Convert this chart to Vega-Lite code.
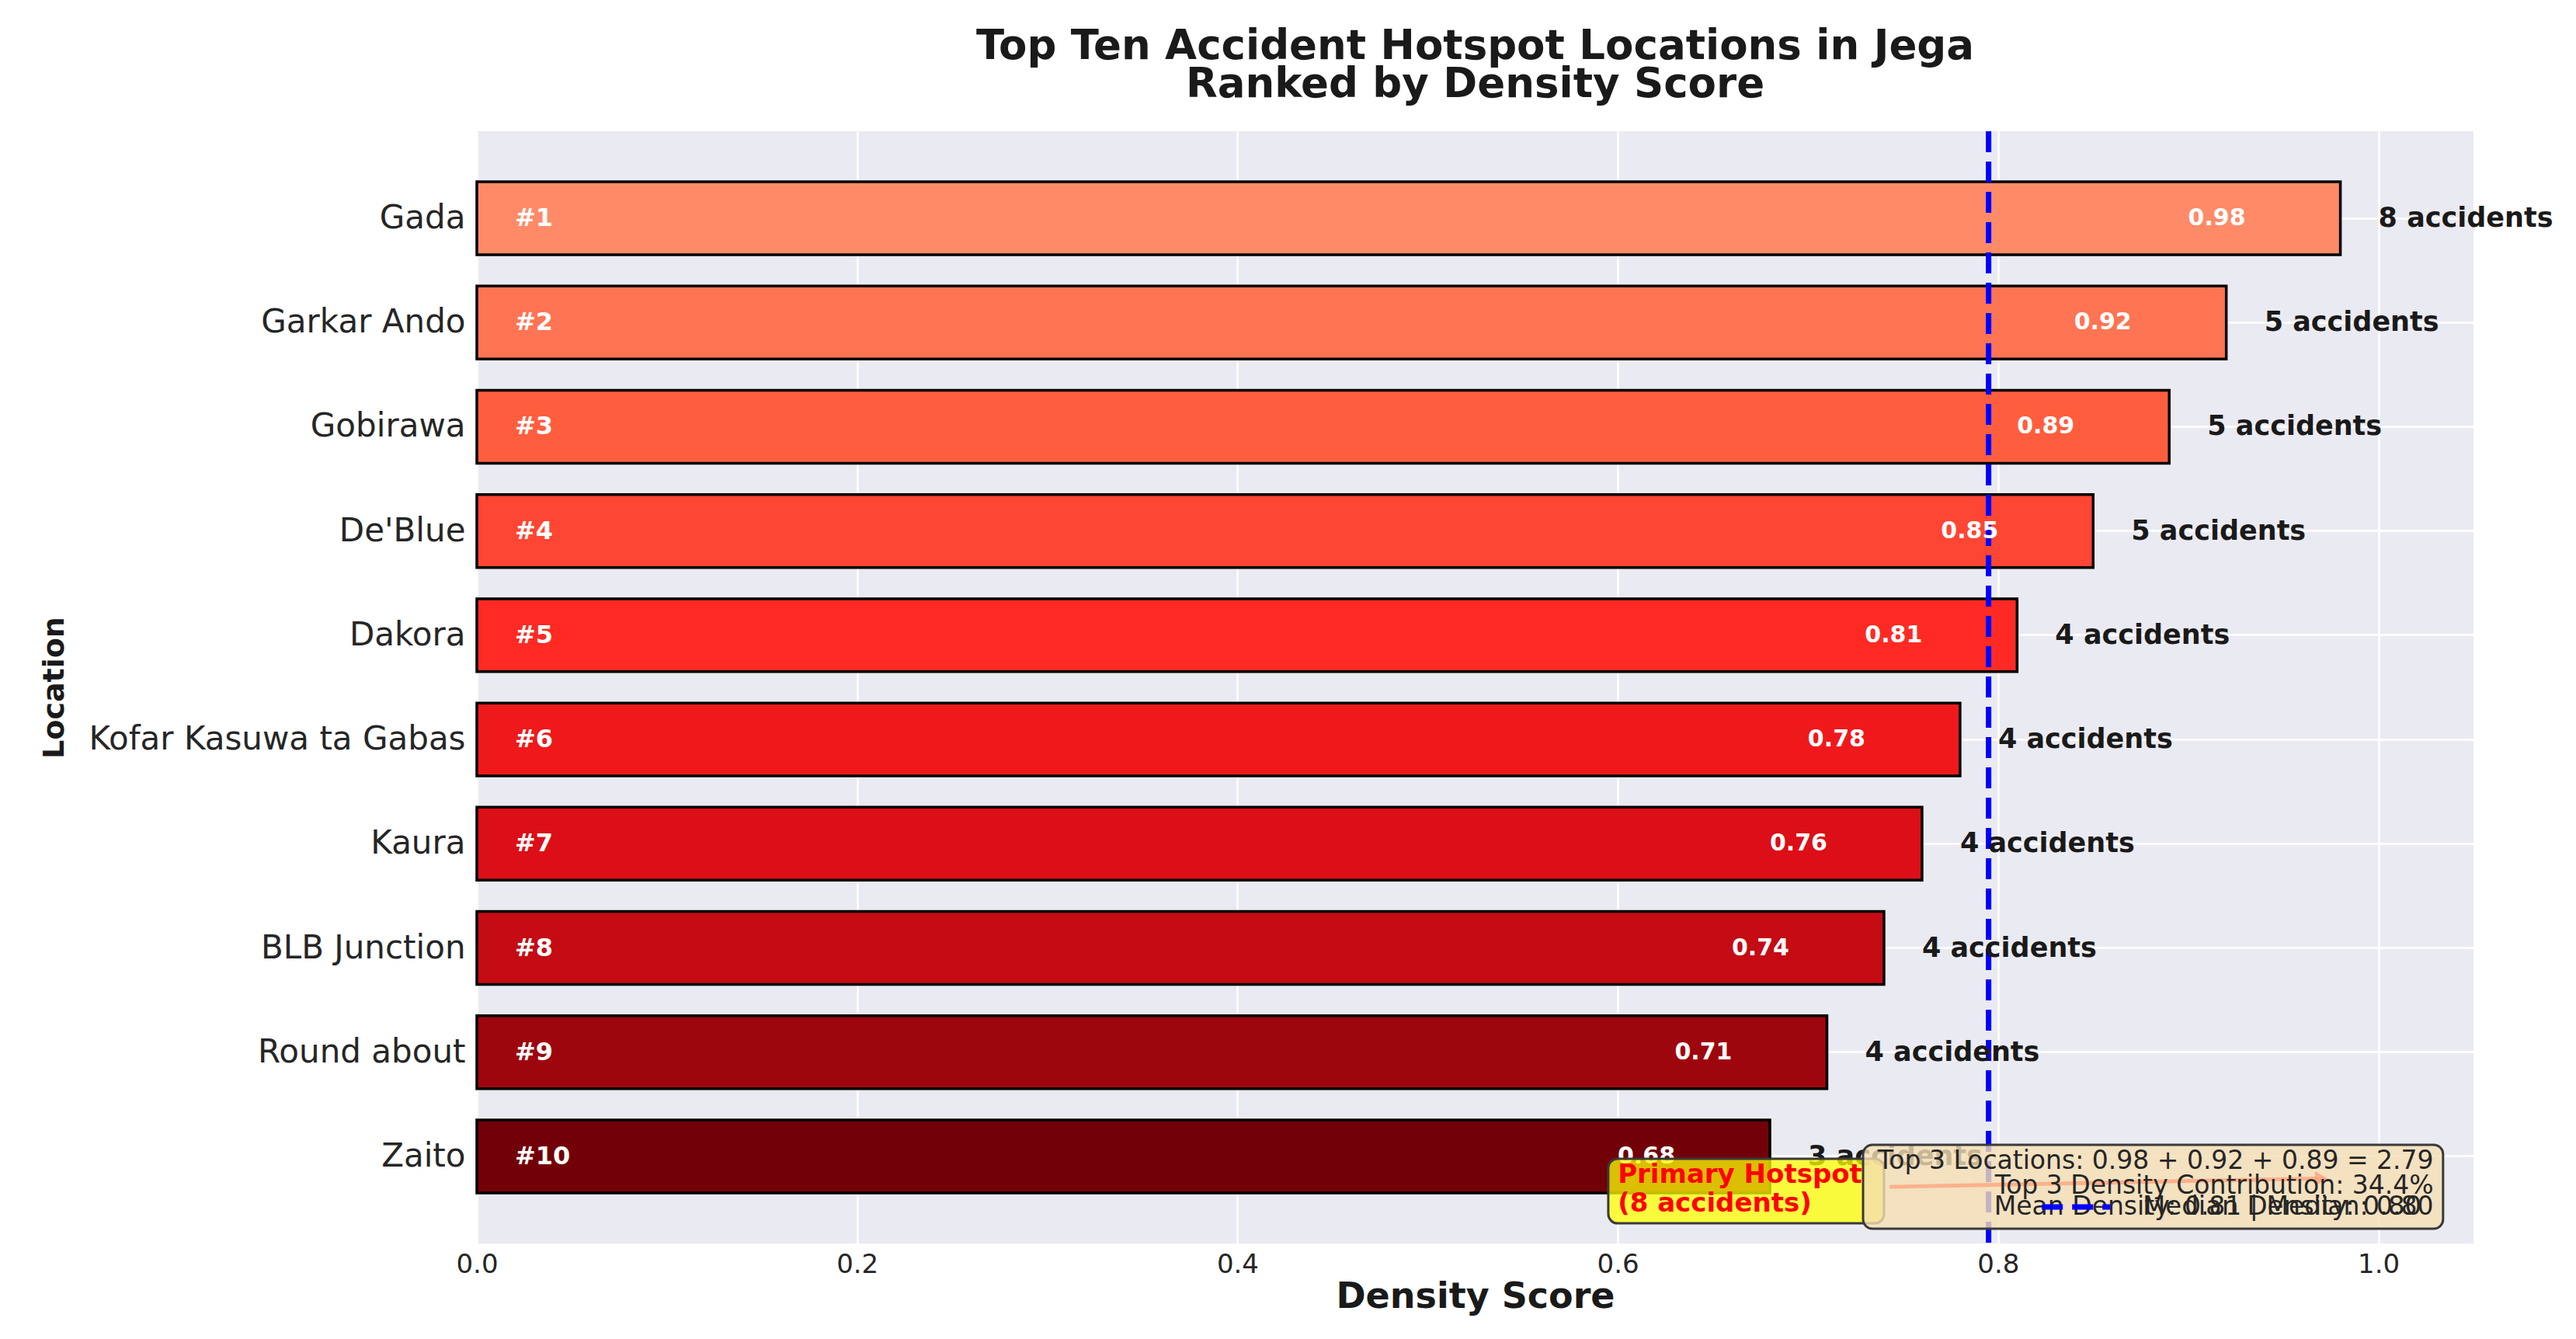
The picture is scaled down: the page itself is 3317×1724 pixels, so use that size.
{
  "$schema": "https://vega.github.io/schema/vega-lite/v6.json",
  "width": 2571,
  "height": 1432,
  "autosize": {"type": "none"},
  "padding": {"left": 614, "top": 169, "right": 132, "bottom": 123},
  "background": "white",
  "title": {
    "text": ["Top Ten Accident Hotspot Locations in Jega", "Ranked by Density Score"],
    "font": "DejaVu Sans",
    "fontSize": 53,
    "fontWeight": "bold",
    "color": "#1a1a1a",
    "anchor": "middle",
    "lineHeight": 49,
    "offset": 30
  },
  "config": {
    "view": {"fill": "#EAEAF2", "stroke": null},
    "font": "DejaVu Sans"
  },
  "layer": [
    {
      "data": {
        "values": [
          {"rank": 1, "tag": "#1", "location": "Gada", "density": 0.98, "count_label": "8 accidents"},
          {"rank": 2, "tag": "#2", "location": "Garkar Ando", "density": 0.92, "count_label": "5 accidents"},
          {"rank": 3, "tag": "#3", "location": "Gobirawa", "density": 0.89, "count_label": "5 accidents"},
          {"rank": 4, "tag": "#4", "location": "De'Blue", "density": 0.85, "count_label": "5 accidents"},
          {"rank": 5, "tag": "#5", "location": "Dakora", "density": 0.81, "count_label": "4 accidents"},
          {"rank": 6, "tag": "#6", "location": "Kofar Kasuwa ta Gabas", "density": 0.78, "count_label": "4 accidents"},
          {"rank": 7, "tag": "#7", "location": "Kaura", "density": 0.76, "count_label": "4 accidents"},
          {"rank": 8, "tag": "#8", "location": "BLB Junction", "density": 0.74, "count_label": "4 accidents"},
          {"rank": 9, "tag": "#9", "location": "Round about", "density": 0.71, "count_label": "4 accidents"},
          {"rank": 10, "tag": "#10", "location": "Zaito", "density": 0.68, "count_label": "3 accidents"}
        ]
      },
      "encoding": {
        "y": {
          "field": "location",
          "type": "nominal",
          "sort": {"field": "rank", "op": "min", "order": "ascending"},
          "scale": {"paddingInner": 0.3, "paddingOuter": 0.485},
          "axis": {
            "title": "Location",
            "titleFont": "DejaVu Sans",
            "titleFontSize": 38,
            "titleFontWeight": "bold",
            "titleColor": "#1a1a1a",
            "titleAngle": 270,
            "titleBaseline": "middle",
            "titleAlign": "center",
            "titleX": -544,
            "titleY": 716,
            "labelFont": "DejaVu Sans",
            "labelFontSize": 42,
            "labelColor": "#262626",
            "labelPadding": 15,
            "labelLimit": 900,
            "ticks": false,
            "domain": false,
            "grid": true,
            "gridColor": "#FFFFFF",
            "gridWidth": 2.5
          }
        }
      },
      "layer": [
        {
          "mark": {"type": "bar", "stroke": "#000000", "strokeWidth": 3.5},
          "encoding": {
            "x": {
              "field": "density",
              "type": "quantitative",
              "scale": {"domain": [0, 1.05], "nice": false, "zero": true},
              "axis": {
                "title": "Density Score",
                "titleFont": "DejaVu Sans",
                "titleFontSize": 46,
                "titleFontWeight": "bold",
                "titleColor": "#1a1a1a",
                "titlePadding": 2,
                "labelFont": "DejaVu Sans",
                "labelFontSize": 34,
                "labelColor": "#262626",
                "labelPadding": 10,
                "labelFlush": false,
                "values": [0, 0.2, 0.4, 0.6, 0.8, 1.0],
                "format": ".1f",
                "ticks": false,
                "domain": false,
                "grid": true,
                "gridColor": "#FFFFFF",
                "gridWidth": 2.5
              }
            },
            "color": {
              "field": "location",
              "type": "nominal",
              "scale": {
                "domain": ["Gada", "Garkar Ando", "Gobirawa", "De'Blue", "Dakora", "Kofar Kasuwa ta Gabas", "Kaura", "BLB Junction", "Round about", "Zaito"],
                "range": ["#FF8A68", "#FF7453", "#FF5E3E", "#FF4533", "#FF2A24", "#EF191C", "#DC0E17", "#C50B13", "#9E060E", "#720008"]
              },
              "legend": null
            }
          }
        },
        {
          "data": {"values": [{"median": 0.795}]},
          "mark": {"type": "rule", "color": "#0000FF", "strokeWidth": 7, "strokeDash": [27, 12]},
          "encoding": {"x": {"field": "median", "type": "quantitative"}, "y": null}
        },
        {
          "mark": {"type": "text", "align": "left", "baseline": "middle", "color": "#FFFFFF", "fontWeight": "bold", "fontSize": 32},
          "encoding": {
            "x": {"datum": 0.02},
            "text": {"field": "tag", "type": "nominal"}
          }
        },
        {
          "mark": {"type": "text", "align": "right", "baseline": "middle", "color": "#FFFFFF", "fontWeight": "bold", "fontSize": 30, "dx": -122},
          "encoding": {
            "x": {"field": "density", "type": "quantitative"},
            "text": {"field": "density", "type": "quantitative", "format": ".2f"}
          }
        },
        {
          "mark": {"type": "text", "align": "left", "baseline": "middle", "color": "#1a1a1a", "fontWeight": "bold", "fontSize": 35, "dx": 49},
          "encoding": {
            "x": {"field": "density", "type": "quantitative"},
            "text": {"field": "count_label", "type": "nominal"}
          }
        }
      ]
    },
    {
      "data": {"values": [{"note": "annotation"}]},
      "encoding": {
        "y": {"datum": 0, "type": "quantitative", "scale": {"domain": [-0.835, 9.835], "reverse": true, "nice": false, "zero": false}, "axis": null}
      },
      "layer": [
        {
          "mark": {"type": "rect", "fill": "#FFFF00", "fillOpacity": 0.75, "stroke": "#3a3a3a", "strokeWidth": 3, "cornerRadius": 12},
          "encoding": {
            "x": {"datum": 0.595, "type": "quantitative"},
            "x2": {"datum": 0.740},
            "y": {"datum": 9.023, "type": "quantitative"},
            "y2": {"datum": 9.642}
          }
        },
        {
          "mark": {"type": "text", "align": "left", "baseline": "middle", "color": "#FF0000", "fontWeight": "bold", "fontSize": 34, "text": "Primary Hotspot"},
          "encoding": {
            "x": {"datum": 0.600, "type": "quantitative"},
            "y": {"datum": 9.180, "type": "quantitative"}
          }
        },
        {
          "mark": {"type": "text", "align": "left", "baseline": "middle", "color": "#FF0000", "fontWeight": "bold", "fontSize": 34, "text": "(8 accidents)"},
          "encoding": {
            "x": {"datum": 0.600, "type": "quantitative"},
            "y": {"datum": 9.456, "type": "quantitative"}
          }
        },
        {
          "mark": {"type": "rect", "fill": "#F5DEB3", "fillOpacity": 0.8, "stroke": "#3a3a3a", "strokeWidth": 3, "cornerRadius": 12},
          "encoding": {
            "x": {"datum": 0.729, "type": "quantitative"},
            "x2": {"datum": 1.034},
            "y": {"datum": 8.889, "type": "quantitative"},
            "y2": {"datum": 9.694}
          }
        },
        {
          "mark": {"type": "rule", "color": "#FFA07A", "strokeWidth": 5, "opacity": 0.75},
          "encoding": {
            "x": {"datum": 0.743, "type": "quantitative"},
            "x2": {"datum": 0.968},
            "y": {"datum": 9.292, "type": "quantitative"},
            "y2": {"datum": 9.212}
          }
        },
        {
          "mark": {"type": "point", "shape": "triangle-right", "filled": true, "color": "#FFA07A", "opacity": 0.8, "size": 350},
          "encoding": {
            "x": {"datum": 0.970, "type": "quantitative"},
            "y": {"datum": 9.212, "type": "quantitative"}
          }
        },
        {
          "mark": {"type": "text", "align": "right", "baseline": "middle", "color": "#262626", "fontSize": 33, "text": "Top 3 Locations: 0.98 + 0.92 + 0.89 = 2.79"},
          "encoding": {
            "x": {"datum": 1.029, "type": "quantitative"},
            "y": {"datum": 9.046, "type": "quantitative"}
          }
        },
        {
          "mark": {"type": "text", "align": "right", "baseline": "middle", "color": "#262626", "fontSize": 33, "text": "Top 3 Density Contribution: 34.4%"},
          "encoding": {
            "x": {"datum": 1.029, "type": "quantitative"},
            "y": {"datum": 9.284, "type": "quantitative"}
          }
        },
        {
          "mark": {"type": "text", "align": "right", "baseline": "middle", "color": "#262626", "fontSize": 33, "text": "Mean Density: 0.81 | Median: 0.80"},
          "encoding": {
            "x": {"datum": 1.029, "type": "quantitative"},
            "y": {"datum": 9.485, "type": "quantitative"}
          }
        },
        {
          "mark": {"type": "rule", "color": "#0000FF", "strokeWidth": 7, "strokeDash": [27, 12]},
          "encoding": {
            "x": {"datum": 0.823, "type": "quantitative"},
            "x2": {"datum": 0.859},
            "y": {"datum": 9.485, "type": "quantitative"}
          }
        },
        {
          "mark": {"type": "text", "align": "left", "baseline": "middle", "color": "#262626", "fontSize": 34, "text": "Median Density: 0.80"},
          "encoding": {
            "x": {"datum": 0.876, "type": "quantitative"},
            "y": {"datum": 9.485, "type": "quantitative"}
          }
        }
      ]
    }
  ],
  "resolve": {"scale": {"y": "independent"}, "axis": {"y": "independent"}}
}
